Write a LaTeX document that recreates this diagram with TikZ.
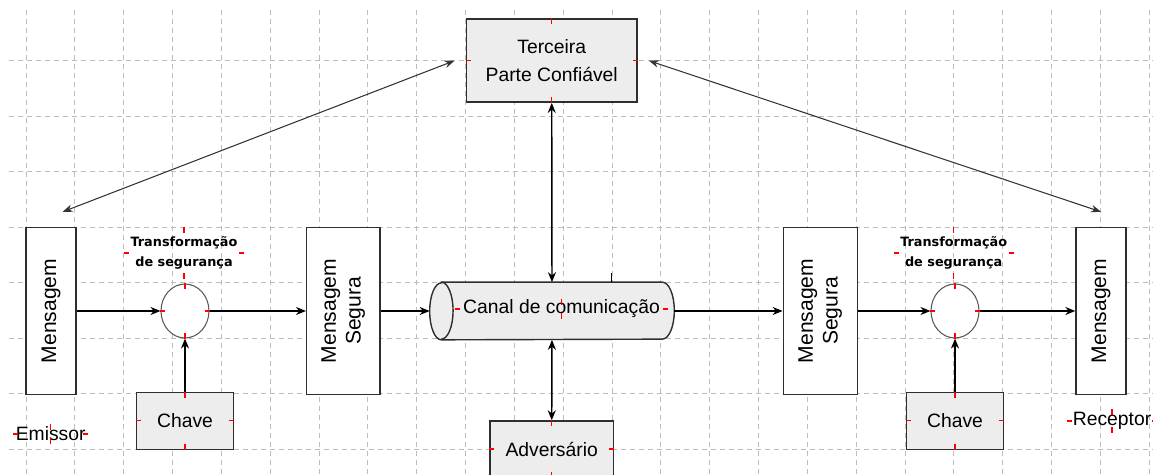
\documentclass[tikz,border=0pt]{standalone}
\usepackage{fontspec}
\usepackage{graphicx}
\setmainfont{Liberation Sans}
\newfontfamily\labfont{DejaVu Sans}
\usetikzlibrary{shapes.geometric,arrows.meta}
\definecolor{boxgrey}{HTML}{EDEDED}
\definecolor{gridgrey}{HTML}{BDBDBD}
\definecolor{edge}{HTML}{2E2E2E}
\newcommand\redticks[1]{%
  \draw[rtick] (#1.north) -- ++(0,6);
  \draw[rtick] (#1.south) -- ++(0,-6);
  \draw[rtick] (#1.west) -- ++(5,0);
  \draw[rtick] (#1.east) -- ++(-5,0);}
\begin{document}
\begin{tikzpicture}[x=0.02cm,y=-0.02cm,
  gridline/.style={draw=gridgrey,line width=0.55pt,dash pattern=on 0.1cm off 0.08cm},
  basebox/.style={rectangle,draw=edge,line width=0.8pt,inner sep=0pt,
    font=\fontsize{11}{15.5}\selectfont,align=center},
  gbox/.style={basebox,fill=boxgrey},
  wbox/.style={basebox,fill=white,font=\fontsize{12}{14}\selectfont},
  circ/.style={ellipse,draw=black!65,line width=0.6pt,fill=white,inner sep=0pt,
    minimum width=0.96cm,minimum height=1.08cm},
  trlab/.style={inner sep=0pt,minimum width=2.37cm,minimum height=1.04cm,align=center,
    font=\labfont\bfseries\fontsize{7.3}{11.3}\selectfont},
  plain/.style={inner xsep=0.04cm,inner ysep=0.05cm,font=\fontsize{11}{13}\selectfont},
  cyl/.style={draw=edge,line width=0.8pt,fill=boxgrey},
  conn/.style={draw=black,line width=0.8pt,-{Stealth[length=0.2cm,width=0.16cm]}},
  biconn/.style={draw=black,line width=0.8pt,{Stealth[length=0.2cm,width=0.16cm]}-{Stealth[length=0.2cm,width=0.16cm]}},
  diag/.style={draw=black!80,line width=0.6pt,{Stealth[length=0.2cm,width=0.15cm]}-{Stealth[length=0.2cm,width=0.15cm]}},
  rtick/.style={draw=red,line width=0.6pt}]
\useasboundingbox (0,0) rectangle (1153,475);
\fill[white] (0,0) rectangle (1153,475);
% grid
\foreach \k in {0,...,23} \draw[gridline] ({26+48.84*\k},10) -- ({26+48.84*\k},475);
\foreach \k in {0,...,7} \draw[gridline] (9,{60.7+55.5*\k}) -- (1153,{60.7+55.5*\k});
% nodes
\node[gbox,minimum width=3.42cm,minimum height=1.66cm] (tpc) at (551.7,60.7) {Terceira\\Parte Confiável};
\node[wbox,minimum width=1cm,minimum height=3.34cm] (msgL) at (51,311) {\rotatebox{90}{Mensagem}};
\node[circ] (circL) at (185,311) {};
\node[trlab] (trL) at (184,253) {Transformação\\de segurança};
\node[wbox,minimum width=1.466cm,minimum height=3.34cm] (msL) at (343.3,311)
  {\rotatebox{90}{\begin{tabular}{@{}c@{}}Mensagem\\Segura\end{tabular}}};
\node[gbox,minimum width=1.934cm,minimum height=1.14cm] (chL) at (185,420.8) {Chave};
\node[plain] (emi) at (50.7,434) {Emissor};
% communication channel (cylinder drawn on a named node)
\node[inner sep=0pt,minimum width=4.88cm,minimum height=1.14cm] (canal) at (552,311) {};
\filldraw[cyl] ([xshift=0.234cm]canal.north west) -- ([xshift=-0.24cm]canal.north east)
  arc[start angle=90,end angle=-90,x radius=0.24cm,y radius=0.57cm]
  -- ([xshift=0.234cm]canal.south west)
  arc[start angle=270,end angle=90,x radius=0.234cm,y radius=0.57cm] -- cycle;
\draw[cyl,fill=none] ([xshift=0.234cm]canal.north west)
  arc[start angle=90,end angle=-90,x radius=0.234cm,y radius=0.57cm];
\node[plain,inner xsep=0.16cm,inner ysep=0.02cm] (canaltxt) at (561.5,309) {Canal de comunicação};
\node[gbox,minimum width=2.466cm,minimum height=1.12cm] (adv) at (551.7,449) {Adversário};
\node[wbox,minimum width=1.48cm,minimum height=3.34cm] (msR) at (820.3,311)
  {\rotatebox{90}{\begin{tabular}{@{}c@{}}Mensagem\\Segura\end{tabular}}};
\node[circ] (circR) at (955,311) {};
\node[trlab,minimum width=2.38cm] (trR) at (953.7,253) {Transformação\\de segurança};
\node[gbox,minimum width=1.932cm,minimum height=1.14cm] (chR) at (955,420.8) {Chave};
\node[wbox,minimum width=1cm,minimum height=3.34cm] (msgR) at (1101,311) {\rotatebox{90}{Mensagem}};
\node[plain,inner xsep=0.1cm] (rec) at (1112,421) {Receptor};
\coordinate (stub) at (611.7,272.7);
% connectors
\draw[conn] (msgL.east) -- (circL.west);
\draw[conn] (circL.east) -- (msL.west);
\draw[conn] (chL.north) -- (circL.south);
\draw[conn] (msL.east) -- (canal.west);
\draw[conn] (canal.east) -- (msR.west);
\draw[conn] (msR.east) -- (circR.west);
\draw[conn] (circR.east) -- (msgR.west);
\draw[conn] (chR.north) -- (circR.south);
\draw[biconn] (tpc) -- (canal);
\draw[biconn] (canal) -- (adv);
\draw[diag] ([xshift=-0.22cm]tpc.west) -- ([xshift=0.234cm,yshift=0.3cm]msgL.north);
\draw[diag] ([xshift=0.22cm]tpc.east) -- ([yshift=0.3cm]msgR.north);
\draw[draw=black,line width=0.8pt] (stub) -- ++(0,9.6);
% red anchor ticks
\redticks{tpc}
\redticks{trL}
\redticks{circL}
\redticks{chL}
\redticks{emi}
\redticks{canaltxt}
\redticks{adv}
\redticks{trR}
\redticks{circR}
\redticks{chR}
\redticks{rec}
\end{tikzpicture}
\end{document}
